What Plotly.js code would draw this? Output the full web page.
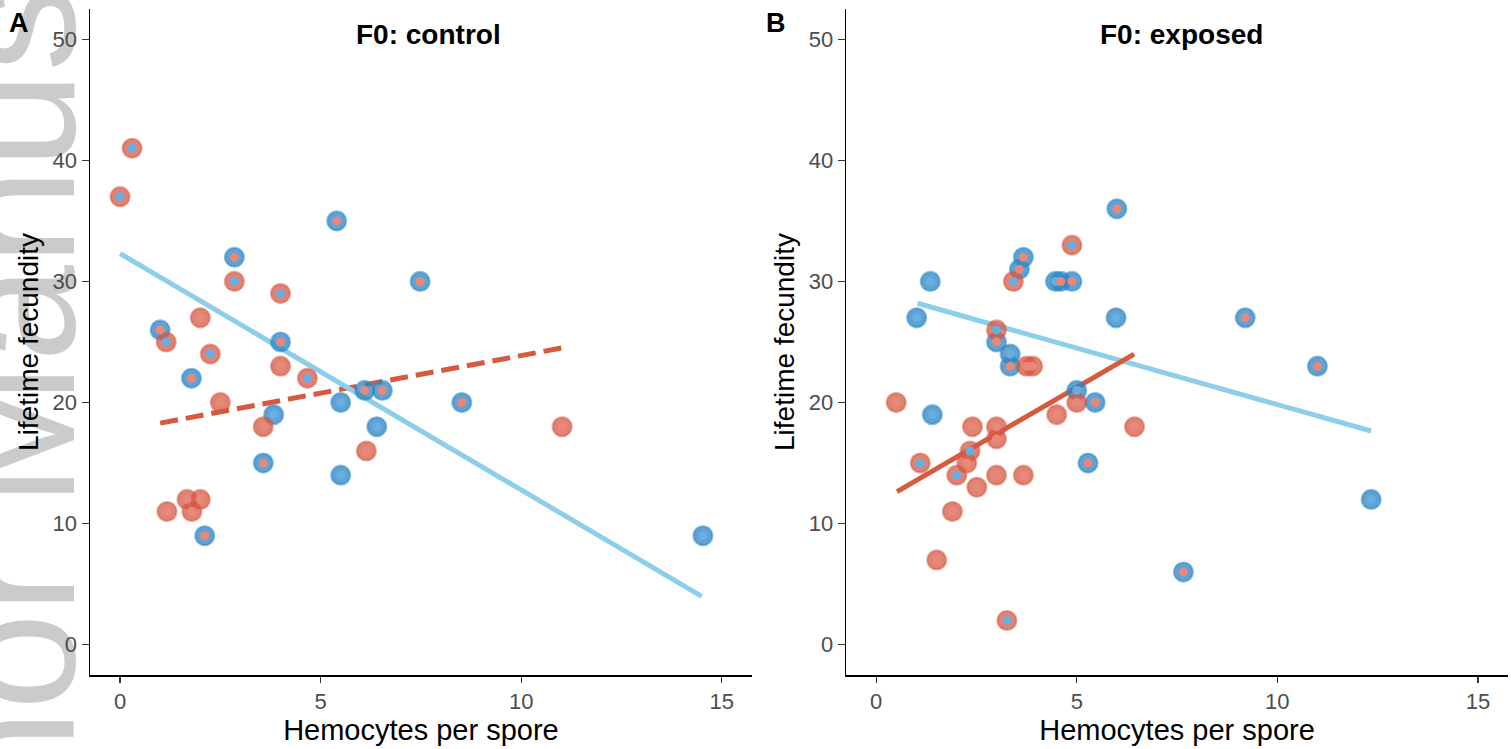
<!DOCTYPE html>
<html>
<head>
<meta charset="utf-8">
<script src="https://cdn.plot.ly/plotly-3.0.1.min.js"></script>
<style>
  html, body { margin: 0; padding: 0; background: #ffffff; overflow: hidden; }
  #wm {
    position: absolute; left: 14px; top: 362px;
    transform: translate(-50%, -50%) rotate(-90deg);
    white-space: nowrap; font-family: "Liberation Sans", Arial, sans-serif;
    font-size: 174px; line-height: 1; color: #cbcbcb; z-index: 0;
  }
  #chart { position: absolute; left: 0; top: 0; width: 1511px; height: 749px; z-index: 1; }
</style>
</head>
<body>
<div id="wm">Author Manuscript</div>
<div id="chart"></div>
<script>
// ---------- data ----------
// Panel A: F0 control
const ctrlX    = [0.0, 0.3, 5.4, 2.85, 2.85, 4.0, 1.0, 1.15, 2.0, 2.25, 4.0, 4.0, 4.67, 1.78, 2.5, 3.83, 3.57, 3.57, 5.5, 5.5, 6.1, 6.54, 6.4, 6.14, 7.48, 8.52, 11.02, 14.53, 1.17, 1.67, 2.0, 1.79, 2.11];
const ctrlY    = [37, 41, 35, 32, 30, 29, 26, 25, 27, 24, 25, 23, 22, 22, 20, 19, 18, 15, 20, 14, 21, 21, 18, 16, 30, 20, 18, 9, 11, 12, 12, 11, 9];
const ctrlRing = ['r','r','b','b','r','r','b','r','r','r','b','r','r','b','r','b','r','b','b','b','b','b','b','r','b','b','r','b','r','r','r','r','b'];
const ctrlCore = ['b','b','r','r','b','b','r','b','r','b','r','r','b','r','r','b','r','r','b','b','r','r','b','r','r','r','r','b','r','r','r','r','r'];

// Panel B: F0 exposed
const expX    = [1.01, 1.35, 3.0, 3.0, 3.34, 3.34, 3.75, 3.9, 3.42, 3.57, 3.67, 4.47, 4.6, 4.88, 4.88, 6.0, 5.98, 9.2, 11.0, 12.34, 7.66, 6.44, 0.5, 1.4, 1.1, 1.51, 1.9, 2.01, 2.26, 2.34, 2.4, 2.51, 3.0, 3.0, 3.0, 3.26, 3.67, 4.5, 5.0, 5.0, 5.46, 5.28];
const expY    = [27, 30, 26, 25, 24, 23, 23, 23, 30, 31, 32, 30, 30, 30, 33, 36, 27, 27, 23, 12, 6, 18, 20, 19, 15, 7, 11, 14, 15, 16, 18, 13, 18, 17, 14, 2, 14, 19, 20, 21, 20, 15];
const expRing = ['b','b','r','b','b','b','r','r','r','b','b','b','b','b','r','b','b','b','b','b','b','r','r','b','r','r','r','r','r','r','r','r','r','r','r','r','r','r','r','b','b','b'];
const expCore = ['b','b','b','r','b','r','r','r','b','r','r','b','r','r','b','r','b','r','r','b','r','r','r','b','b','r','r','b','r','b','r','r','r','r','r','b','r','r','r','b','r','r'];

// fitted lines (end points)
const ctrlFitBlueX = [0.0, 14.5],  ctrlFitBlueY = [32.3, 4.0];
const ctrlFitRedX  = [1.0, 11.0],  ctrlFitRedY  = [18.3, 24.5];
const expFitBlueX  = [1.03, 12.34], expFitBlueY = [28.2, 17.65];
const expFitRedX   = [0.52, 6.43], expFitRedY   = [12.65, 24.0];

const xTicks = [0, 5, 10, 15];
const yTicks = [0, 10, 20, 30, 40, 50];
const panelTitles = ['F0: control', 'F0: exposed'];
const panelTags = ['A', 'B'];

// ---------- styles ----------
const FONT = 'Liberation Sans, Arial, Helvetica, sans-serif';
const ringFill = { b: 'rgba(44,134,198,0.76)', r: 'rgba(214,88,66,0.74)' };
const ringLine = { b: 'rgba(44,134,198,0.5)', r: 'rgba(214,88,66,0.5)' };
const coreFill = { b: '#6aade0', r: '#e8887a' };
const LINE_BLUE = '#8dcfea';
const LINE_RED = '#d65a3e';

function pick(arr, mask, key) { return arr.filter((_, i) => mask[i] === key); }

function panelTraces(X, Y, ring, core, fits, xa, ya) {
  const t = [];
  fits.forEach(f => t.push({
    x: f.x, y: f.y, mode: 'lines', xaxis: xa, yaxis: ya, hoverinfo: 'skip',
    line: { color: f.color, width: 5, dash: f.dash || 'solid' }
  }));
  ['b', 'r'].forEach(k => t.push({
    x: pick(X, ring, k), y: pick(Y, ring, k), mode: 'markers', xaxis: xa, yaxis: ya, hoverinfo: 'skip',
    marker: { size: 19, color: ringFill[k], line: { width: 2.2, color: ringLine[k] } }
  }));
  ['b', 'r'].forEach(k => t.push({
    x: pick(X, core, k), y: pick(Y, core, k), mode: 'markers', xaxis: xa, yaxis: ya, hoverinfo: 'skip',
    marker: { size: 9, color: coreFill[k], line: { width: 0 } }
  }));
  return t;
}

const traces = [].concat(
  panelTraces(ctrlX, ctrlY, ctrlRing, ctrlCore, [
    { x: ctrlFitRedX, y: ctrlFitRedY, color: LINE_RED, dash: '18px,8px' },
    { x: ctrlFitBlueX, y: ctrlFitBlueY, color: LINE_BLUE }
  ], 'x', 'y'),
  panelTraces(expX, expY, expRing, expCore, [
    { x: expFitBlueX, y: expFitBlueY, color: LINE_BLUE },
    { x: expFitRedX, y: expFitRedY, color: LINE_RED }
  ], 'x2', 'y2')
);

// ---------- layout ----------
const W = 1511, H = 749;
const M = { l: 89.9, r: 3.3, t: 8.7, b: 73.7 };
const PW = W - M.l - M.r, PH = H - M.t - M.b;
const px2x = p => (p - M.l) / PW;
const py2y = p => (H - M.b - p) / PH;

function xAxis(domain, anchor) {
  return {
    domain: domain, anchor: anchor, range: [-0.75, 15.75], tickmode: 'array', tickvals: xTicks,
    ticks: 'outside', ticklen: 6, tickwidth: 1.3, tickcolor: '#333333',
    showline: true, linecolor: '#000000', linewidth: 1.5, showgrid: false, zeroline: false,
    tickfont: { family: FONT, size: 22, color: '#4d4d4d' }, ticklabelstandoff: 0,
    title: { text: 'Hemocytes per spore', font: { family: FONT, size: 29, color: '#000000' }, standoff: 0 },
    fixedrange: true
  };
}
function yAxis(anchor) {
  return {
    domain: [0, 1], anchor: anchor, range: [-2.5, 52.5], tickmode: 'array', tickvals: yTicks,
    ticks: 'outside', ticklen: 7, tickwidth: 1.3, tickcolor: '#333333',
    showline: true, linecolor: '#000000', linewidth: 1.5, showgrid: false, zeroline: false,
    tickfont: { family: FONT, size: 22, color: '#4d4d4d' },
    title: { text: 'Lifetime fecundity', font: { family: FONT, size: 28, color: '#000000' }, standoff: 6 },
    fixedrange: true
  };
}

const annotations = [
  { text: '<b>' + panelTitles[0] + '</b>', x: px2x(428), y: py2y(34), size: 28 },
  { text: '<b>' + panelTitles[1] + '</b>', x: px2x(1181), y: py2y(34), size: 28 },
  { text: '<b>' + panelTags[0] + '</b>', x: px2x(19), y: py2y(23), size: 27 },
  { text: '<b>' + panelTags[1] + '</b>', x: px2x(776), y: py2y(23), size: 27 }
].map(a => ({
  text: a.text, x: a.x, y: a.y,
  xref: 'paper', yref: 'paper', showarrow: false, xanchor: 'center', yanchor: 'middle',
  font: { family: FONT, size: a.size, color: '#000000' }
}));

const layout = {
  width: W, height: H, margin: M, showlegend: false,
  paper_bgcolor: 'rgba(0,0,0,0)', plot_bgcolor: 'rgba(0,0,0,0)',
  xaxis: xAxis([0, px2x(751.7)], 'y'),
  yaxis: yAxis('x'),
  xaxis2: xAxis([px2x(845.9), 1], 'y2'),
  yaxis2: yAxis('x2'),
  annotations: annotations
};

Plotly.newPlot('chart', traces, layout, { staticPlot: true, displayModeBar: false });
</script>
</body>
</html>
